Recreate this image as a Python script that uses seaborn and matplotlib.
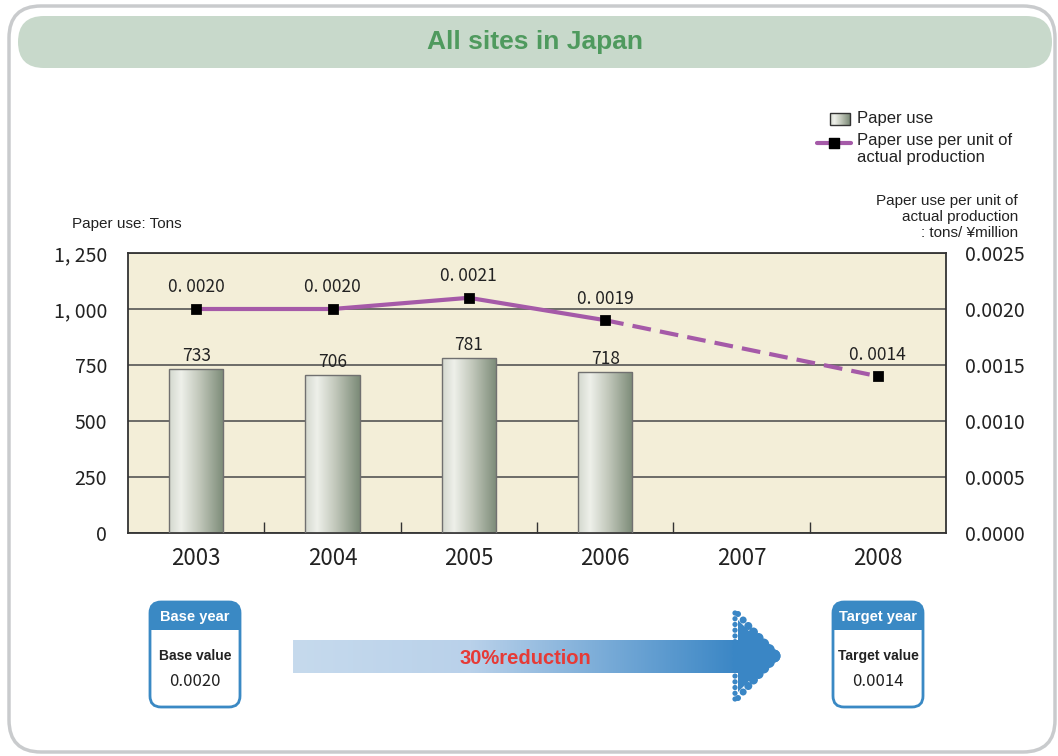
import numpy as np
import pandas as pd
import matplotlib
matplotlib.use("Agg")
import matplotlib.pyplot as plt
import seaborn as sns
from matplotlib.patches import FancyBboxPatch, Rectangle, Polygon, Circle
from matplotlib.colors import LinearSegmentedColormap

# ---------------- data ----------------
years = ["2003", "2004", "2005", "2006", "2007", "2008"]
bar_years = ["2003", "2004", "2005", "2006"]
paper_use = [733, 706, 781, 718]
line_years_solid = ["2003", "2004", "2005", "2006"]
per_unit_solid = [0.0020, 0.0020, 0.0021, 0.0019]
line_years_dashed = ["2006", "2008"]
per_unit_dashed = [0.0019, 0.0014]
per_unit_labels = ["0. 0020", "0. 0020", "0. 0021", "0. 0019", "0. 0014"]
marker_years = ["2003", "2004", "2005", "2006", "2008"]
marker_values = [0.0020, 0.0020, 0.0021, 0.0019, 0.0014]
left_ticks = [0, 250, 500, 750, 1000, 1250]
left_tick_labels = ["0", "250", "500", "750", "1, 000", "1, 250"]
right_ticks = [0.0, 0.0005, 0.0010, 0.0015, 0.0020, 0.0025]
right_tick_labels = ["0.0000", "0.0005", "0.0010", "0.0015", "0.0020", "0.0025"]
base_value = "0.0020"
target_value = "0.0014"

SANS = ["Liberation Sans", "DejaVu Sans"]
NUM = ["Noto Sans CJK JP", "DejaVu Sans"]

W, H = 1058, 756
sns.set_theme(style="white")
plt.rcParams["font.family"] = SANS

fig = plt.figure(figsize=(W / 100, H / 100), dpi=100)

# background canvas in pixel coordinates
bg = fig.add_axes([0, 0, 1, 1], zorder=0)
bg.set_xlim(0, W)
bg.set_ylim(H, 0)
bg.axis("off")

bg.add_patch(FancyBboxPatch((9, 6), W - 12, H - 10,
                            boxstyle="round,pad=0,rounding_size=32",
                            fc="white", ec="#c9cbcd", lw=2.5))
bg.add_patch(FancyBboxPatch((18, 16), 1034, 52,
                            boxstyle="round,pad=0,rounding_size=26",
                            fc="#c8d9cb", ec="none"))
bg.text(535, 42, "All sites in Japan", ha="center", va="center",
        fontsize=19, fontweight="bold", color="#4f9a5e")

# axis captions
bg.text(72, 224, "Paper use: Tons", ha="left", va="center", fontsize=11, color="#222222")
bg.text(1018, 194, "Paper use per unit of\nactual production\n: tons/ ¥million",
        ha="right", va="top", fontsize=11, color="#222222", linespacing=1.2)

# legend (drawn manually)
grad_cmap = LinearSegmentedColormap.from_list(
    "bar", [(0.0, "#d3d8ce"), (0.22, "#eef0ea"), (0.55, "#c2c8bb"), (1.0, "#7b8a77")])
grad = np.linspace(0, 1, 256)[None, :]
bg.imshow(grad, cmap=grad_cmap, extent=(830, 850, 125, 113), aspect="auto", zorder=2)
bg.add_patch(Rectangle((830, 113), 20, 12, fc="none", ec="#333333", lw=1, zorder=3))
bg.text(857, 119, "Paper use", ha="left", va="center", fontsize=12, color="#222222")
bg.plot([817, 851], [143, 143], color="#a55aa8", lw=3, zorder=2)
bg.scatter([834], [143], marker="s", s=45, color="black", zorder=3)
bg.text(857, 133, "Paper use per unit of\nactual production", ha="left", va="top",
        fontsize=12, color="#222222", linespacing=1.15)

# bottom boxes
BLUE = "#3a89c4"


def info_box(x0, header, label, value):
    w, h, hh = 90, 105, 28
    y0 = 602
    bg.add_patch(FancyBboxPatch((x0, y0), w, h, boxstyle="round,pad=0,rounding_size=11",
                                fc=BLUE, ec="none", zorder=2))
    bg.add_patch(FancyBboxPatch((x0, y0 + hh), w, h - hh,
                                boxstyle="round,pad=0,rounding_size=11",
                                fc="white", ec="none", zorder=3))
    bg.add_patch(Rectangle((x0 + 1, y0 + hh), w - 2, 20, fc="white", ec="none", zorder=3))
    bg.add_patch(FancyBboxPatch((x0, y0), w, h, boxstyle="round,pad=0,rounding_size=11",
                                fc="none", ec=BLUE, lw=2, zorder=4))
    cx = x0 + w / 2
    bg.text(cx, y0 + 15, header, ha="center", va="center", fontsize=10.5,
            fontweight="bold", color="white", zorder=5)
    bg.text(cx, 656, label, ha="center", va="center", fontsize=10,
            fontweight="bold", color="#222222", zorder=5)
    bg.text(cx, 681, value, ha="center", va="center", fontsize=12,
            family=NUM, color="#222222", zorder=5)


info_box(150, "Base year", "Base value", base_value)
info_box(833, "Target year", "Target value", target_value)

# arrow body with gradient
arrow_cmap = LinearSegmentedColormap.from_list(
    "arr", [(0.0, "#c6daed"), (0.4, "#b9d1ea"), (1.0, "#3a86c5")])
bg.imshow(grad, cmap=arrow_cmap, extent=(293, 738, 673, 640), aspect="auto", zorder=2)
# dotted arrow head
bg.add_patch(Polygon([(738, 620), (774, 656), (738, 692)], closed=True,
                     fc="#3a86c5", ec="none", zorder=3))
for t in np.linspace(0, 1, 8):
    r = 3 + 3.5 * t
    for sgn in (-1, 1):
        x = 738 + 36 * t
        y = 656 + sgn * (42 - 42 * t)
        bg.add_patch(Circle((x, y), r, fc="#3a86c5", ec="none", zorder=3))
for y in np.linspace(613, 699, 16):
    bg.add_patch(Circle((735, y), 2.6, fc="#3a86c5", ec="none", zorder=3))
bg.text(525, 658, "30%reduction", ha="center", va="center", fontsize=14.5,
        fontweight="bold", color="#e63a36", zorder=4)
bg.set_xlim(0, W)
bg.set_ylim(H, 0)

# ---------------- main chart ----------------
ax = fig.add_axes([128 / W, 1 - 533 / H, 818 / W, 280 / H], zorder=2)
ax.set_facecolor("#f3eed8")
df_bar = pd.DataFrame({"year": bar_years, "paper_use": paper_use})
sns.barplot(data=df_bar, x="year", y="paper_use", order=years, width=0.40,
            color="#c2c8bb", edgecolor="#707070", linewidth=1, ax=ax, zorder=3)
ax.set_xlim(-0.5, len(years) - 0.5)
ax.set_ylim(left_ticks[0], left_ticks[-1])

# gradient fill for bars
for p in list(ax.patches):
    x, y = p.get_x(), p.get_y()
    w, h = p.get_width(), p.get_height()
    if not np.isfinite(h) or h == 0:
        continue
    im = ax.imshow(grad, cmap=grad_cmap, extent=(x, x + w, y, y + h),
                   aspect="auto", zorder=2.5)
    im.set_clip_path(p)
    p.set_facecolor("none")
    p.set_zorder(3)
ax.set_xlim(-0.5, len(years) - 0.5)
ax.set_ylim(left_ticks[0], left_ticks[-1])

ax.bar_label(ax.containers[0], fmt="%.0f", padding=3, fontsize=12.5,
             family=NUM, color="#222222")

ax.set_yticks(left_ticks)
ax.set_yticklabels(left_tick_labels, family=NUM, fontsize=14, color="#222222")
ax.set_xticks(range(len(years)))
ax.set_xticklabels(years, family=NUM, fontsize=16, color="#222222")
ax.set_xticks([i + 0.5 for i in range(len(years) - 1)], minor=True)
ax.tick_params(axis="x", which="major", length=0, pad=10)
ax.tick_params(axis="x", which="minor", length=8, width=1, direction="in",
               color="#333333", bottom=True)
ax.tick_params(axis="y", length=0, pad=15)
ax.set_xlabel("")
ax.set_ylabel("")
ax.set_axisbelow(True)
ax.yaxis.grid(True, color="#555555", lw=1.2)
ax.xaxis.grid(False)
for s in ax.spines.values():
    s.set_visible(True)
    s.set_color("#333333")
    s.set_linewidth(1.3)

# secondary axis: paper use per unit
ax2 = ax.twinx()
ax2.set_zorder(3)
pos = {y: i for i, y in enumerate(years)}
PURPLE = "#a55aa8"
sns.lineplot(x=[pos[y] for y in line_years_solid], y=per_unit_solid, color=PURPLE,
             lw=3, ax=ax2, zorder=4)
sns.lineplot(x=[pos[y] for y in line_years_dashed], y=per_unit_dashed, color=PURPLE,
             lw=3, ax=ax2, zorder=4, linestyle=(0, (4.5, 2.2)))
sns.scatterplot(x=[pos[y] for y in marker_years], y=marker_values, marker="s", s=48,
                color="black", edgecolor="black", ax=ax2, zorder=5)
for yr, v, lab in zip(marker_years, marker_values, per_unit_labels):
    ax2.annotate(lab, (pos[yr], v), xytext=(0, 9), textcoords="offset points",
                 ha="center", va="bottom", fontsize=12.5, family=NUM, color="#222222")
ax2.set_ylim(right_ticks[0], right_ticks[-1])
ax2.set_xlim(-0.5, len(years) - 0.5)
ax2.set_yticks(right_ticks)
ax2.set_yticklabels(right_tick_labels, family=NUM, fontsize=14, color="#222222")
ax2.tick_params(axis="y", length=0, pad=14)
ax2.set_ylabel("")
ax2.grid(False)
for s in ax2.spines.values():
    s.set_visible(False)

fig.savefig("out.png", dpi=100)
